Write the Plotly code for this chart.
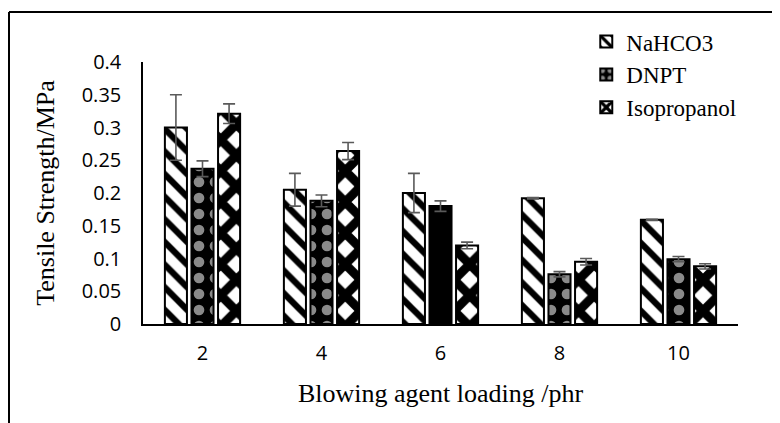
import plotly.graph_objects as go

categories = ["2", "4", "6", "8", "10"]
series_names = ["NaHCO3", "DNPT", "Isopropanol"]
nahco3 = [0.300, 0.205, 0.200, 0.192, 0.159]
nahco3_err = [0.050, 0.025, 0.030, 0.001, 0.001]
dnpt = [0.237, 0.188, 0.180, 0.076, 0.099]
dnpt_err = [0.012, 0.009, 0.008, 0.004, 0.004]
iso = [0.321, 0.264, 0.120, 0.095, 0.088]
iso_err = [0.015, 0.013, 0.005, 0.005, 0.004]
dnpt_shapes = [".", ".", "", ".", "."]
y_ticks = [0, 0.05, 0.1, 0.15, 0.2, 0.25, 0.3, 0.35, 0.4]
y_tick_labels = ["0", "0.05", "0.1", "0.15", "0.2", "0.25", "0.3", "0.35", "0.4"]

ERR = dict(type="data", visible=True, color="#5a5a5a", thickness=1.6, width=6)

fig = go.Figure()
fig.add_trace(go.Bar(
    name=series_names[0], x=categories, y=nahco3,
    error_y=dict(array=nahco3_err, **ERR),
    marker=dict(color="white", line=dict(color="black", width=2),
                pattern=dict(shape="\\", size=16, solidity=0.4,
                             fgcolor="black", bgcolor="white", fillmode="replace")),
))
fig.add_trace(go.Bar(
    name=series_names[1], x=categories, y=dnpt,
    error_y=dict(array=dnpt_err, **ERR),
    marker=dict(color="black", line=dict(color="black", width=2),
                pattern=dict(shape=dnpt_shapes, size=16, solidity=0.35,
                             fgcolor="#8a8a8a", bgcolor="black", fillmode="replace")),
))
fig.add_trace(go.Bar(
    name=series_names[2], x=categories, y=iso,
    error_y=dict(array=iso_err, **ERR),
    marker=dict(color="white", line=dict(color="black", width=2),
                pattern=dict(shape="x", size=22, solidity=0.65,
                             fgcolor="black", bgcolor="white", fillmode="replace")),
))

# outer frame lines (top and left) of the original figure
fig.add_shape(type="line", xref="paper", yref="paper",
              x0=(9 - 143) / 595, x1=(800 - 143) / 595,
              y0=(324 - 12) / 262, y1=(324 - 12) / 262,
              line=dict(color="black", width=2))
fig.add_shape(type="line", xref="paper", yref="paper",
              x0=(9 - 143) / 595, x1=(9 - 143) / 595,
              y0=(324 - 12) / 262, y1=(324 - 440) / 262,
              line=dict(color="black", width=2))

fig.update_layout(
    width=780, height=423,
    margin=dict(l=135, r=50, t=54, b=107),
    paper_bgcolor="white", plot_bgcolor="white",
    barmode="group", bargap=0.33, bargroupgap=0.17,
    font=dict(family="Liberation Serif", color="black"),
    xaxis=dict(
        showline=True, linecolor="black", linewidth=1.5,
        ticks="", showgrid=False, ticklabelstandoff=10,
        tickfont=dict(family="Open Sans", size=20, color="black"),
        title=dict(text="Blowing agent loading /phr",
                   font=dict(family="Liberation Serif", size=26), standoff=19),
    ),
    yaxis=dict(
        range=[0, 0.4], tickvals=y_ticks, ticktext=y_tick_labels,
        showline=True, linecolor="black", linewidth=1.5,
        ticks="", showgrid=False, zeroline=False, ticklabelstandoff=16,
        tickfont=dict(family="Open Sans", size=20, color="black"),
        title=dict(text="Tensile Strength/MPa",
                   font=dict(family="Liberation Serif", size=26), standoff=20),
    ),
    legend=dict(
        x=0.745, y=1.16, xanchor="left", yanchor="top",
        font=dict(family="Liberation Serif", size=23, color="black"),
        bgcolor="rgba(0,0,0,0)", itemwidth=30, tracegroupgap=0,
    ),
    showlegend=True,
)

fig.write_html("out.html")
